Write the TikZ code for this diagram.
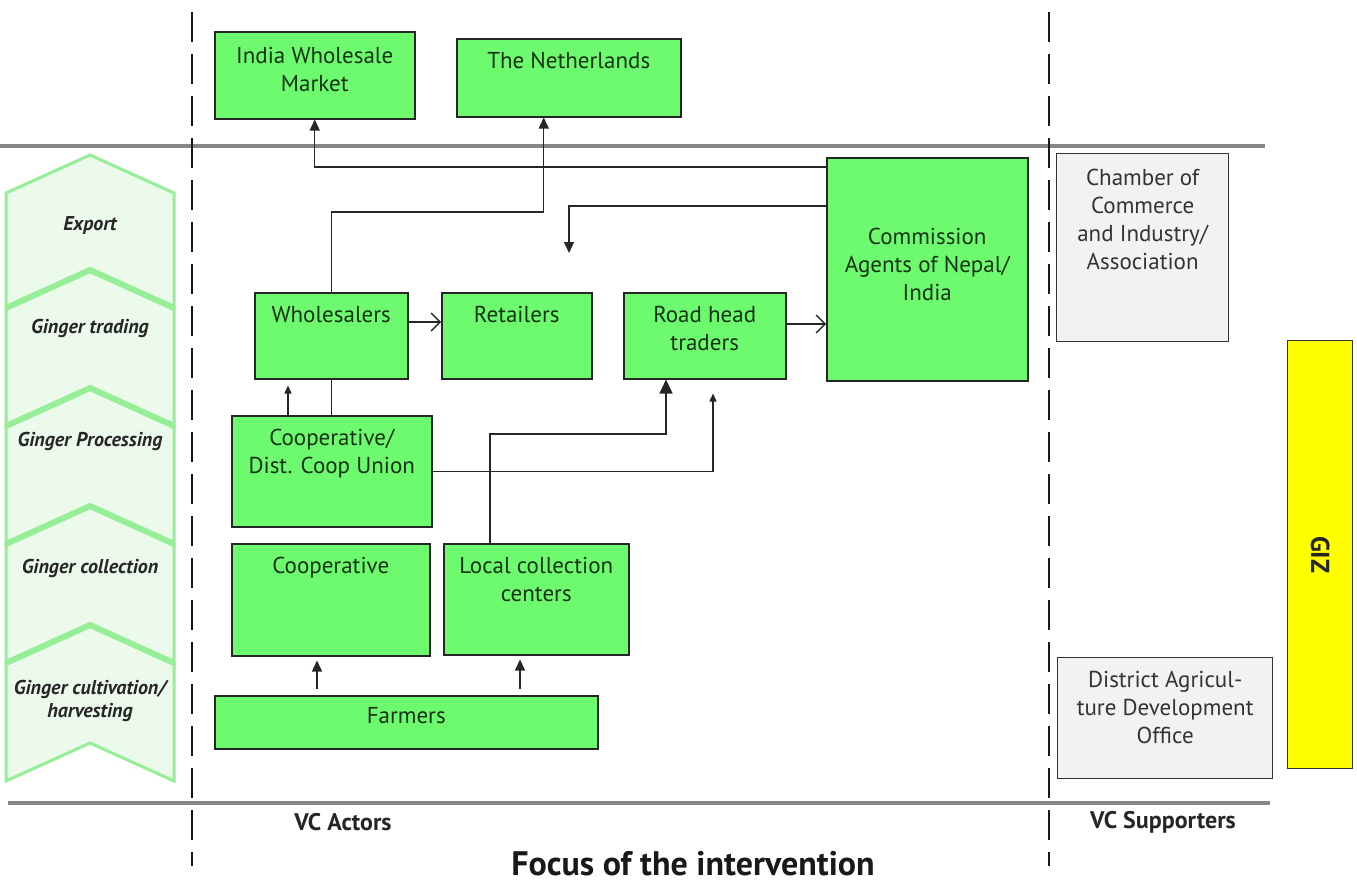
\documentclass[tikz,border=0pt]{standalone}
\usepackage{fontspec}
\setmainfont{PT Sans}
\usetikzlibrary{arrows.meta}
\definecolor{boxgreen}{RGB}{110,250,110}
\definecolor{chevfill}{RGB}{236,250,236}
\definecolor{chevline}{RGB}{150,238,150}
\definecolor{suppfill}{RGB}{242,242,242}
\definecolor{linegray}{RGB}{135,135,135}
\definecolor{txtgreen}{RGB}{20,50,20}
\definecolor{gizyellow}{RGB}{255,255,0}
\begin{document}
\begin{tikzpicture}[x=1pt,y=-1pt,
  gbox/.style={draw=black!85, line width=1.5pt, fill=boxgreen, anchor=north west, inner sep=0pt},
  sbox/.style={draw=black!80, line width=1.3pt, fill=suppfill, anchor=north west, inner sep=0pt},
  btxt/.style={anchor=north, align=center, font=\fontsize{23}{28}\selectfont, text=txtgreen, inner sep=0pt},
  stxt/.style={anchor=north, align=center, font=\fontsize{23}{28}\selectfont, text=black!80, inner sep=0pt},
  stagetxt/.style={font=\fontsize{20}{23}\selectfont\bfseries\itshape, align=center, text=black!85, inner sep=0pt},
  bottxt/.style={font=\fontsize{24}{28}\selectfont\bfseries, text=black!85, inner sep=0pt},
  conn/.style={line width=1.4pt, draw=black!85},
  tri/.style={-{Triangle[width=10pt,length=11pt]}},
  bigtri/.style={-{Triangle[width=13pt,length=14pt]}},
  smalltri/.style={-{Triangle[width=7pt,length=8pt]}},
  barb/.style={-{Straight Barb[width=18pt,length=9pt,line width=1.4pt]}},
  sep/.style={line width=3.5pt, draw=linegray},
  vdash/.style={line width=2.6pt, draw=black!90, dash pattern=on 30pt off 12pt},
  chev/.style={fill=chevfill, draw=chevline, line width=3pt, line join=miter},
  chevband/.style={draw=chevline, line width=6pt}
]
\useasboundingbox (0,0) rectangle (1357,889);

% stage chevrons
\foreach \a/\b in {155/270,270/388,388/506,506/625,625/743}{
  \path[chev] (6,\a+38) -- (90,\a) -- (174,\a+38) -- (174,\b+38) -- (90,\b) -- (6,\b+38) -- cycle;
}
\foreach \a in {270,388,506,625}{
  \draw[chevband] (6,\a+38) -- (90,\a) -- (174,\a+38);
}
\node[stagetxt] (st1) at (90,225) {Export};
\node[stagetxt] (st2) at (90,328) {Ginger trading};
\node[stagetxt] (st3) at (90,441) {Ginger Processing};
\node[stagetxt] (st4) at (90,568) {Ginger collection};
\node[stagetxt] (st5) at (90,701) {Ginger cultivation/\\harvesting};

% separators
\draw[sep] (0,146) -- (1265,146);
\draw[sep] (8,803) -- (1270,803);
\draw[vdash] (192,12) -- (192,866);
\draw[vdash] (1049,12) -- (1049,866);

% green boxes
\node[gbox, minimum width=200pt, minimum height=87pt] (india) at (214,31) {};
\node[btxt] (indiat) at ([yshift=-16pt]india.north) {India Wholesale\\Market};
\node[gbox, minimum width=224pt, minimum height=78pt] (neth) at (456,38) {};
\node[btxt] (netht) at ([yshift=-14pt]neth.north) {The Netherlands};
\node[gbox, minimum width=201pt, minimum height=223pt] (ca) at (826,157) {};
\node[btxt] (cat) at ([yshift=-71pt]ca.north) {Commission\\Agents of Nepal/\\India};
\node[gbox, minimum width=153pt, minimum height=86pt] (whole) at (254,292) {};
\node[btxt] (wholet) at ([yshift=-14pt]whole.north) {Wholesalers};
\node[gbox, minimum width=150pt, minimum height=86pt] (retail) at (441,292) {};
\node[btxt] (retailt) at ([yshift=-14pt]retail.north) {Retailers};
\node[gbox, minimum width=162pt, minimum height=86pt] (road) at (623,292) {};
\node[btxt] (roadt) at ([yshift=-14pt]road.north) {Road head\\traders};
\node[gbox, minimum width=200pt, minimum height=111pt] (coopu) at (231,415) {};
\node[btxt] (cooput) at ([yshift=-14pt]coopu.north) {Cooperative/\\Dist. Coop Union};
\node[gbox, minimum width=198pt, minimum height=112pt] (coop) at (231,543) {};
\node[btxt] (coopt) at ([yshift=-14pt]coop.north) {Cooperative};
\node[gbox, minimum width=185pt, minimum height=111pt] (lcc) at (443,543) {};
\node[btxt] (lcct) at ([yshift=-14pt]lcc.north) {Local collection\\centers};
\node[gbox, minimum width=383pt, minimum height=53pt] (farm) at (214,695) {};
\node[btxt] (farmt) at ([yshift=-12pt]farm.north) {Farmers};

% supporters
\node[sbox, minimum width=172pt, minimum height=188pt] (cham) at (1056,153) {};
\node[stxt] (chamt) at ([yshift=-16pt]cham.north) {Chamber of\\Commerce\\and Industry/\\Association};
\node[sbox, minimum width=215pt, minimum height=121pt] (dado) at (1057,657) {};
\node[stxt] (dadot) at ([yshift=-14pt]dado.north) {District Agricul-\\ture Development\\Office};
\node[draw=black!80, line width=1.3pt, fill=gizyellow, anchor=north west, inner sep=0pt,
      minimum width=65pt, minimum height=428pt] (giz) at (1287,340) {};
\node[rotate=-90, font=\fontsize{26}{30}\selectfont\bfseries, text=black!85] (gizt) at (giz.center) {GIZ};

% connectors
\draw[conn, tri] ([yshift=-10pt]ca.north west) -| (india.south);
\draw[conn, tri] (whole.north) -- ++(0,-80) -| ([xshift=-25pt]neth.south);
\coordinate (cadown) at (569,253);
\draw[conn, tri] ([yshift=-49pt]ca.north west) -| (cadown);
\draw[conn, barb] ([yshift=-30pt]whole.north east) -- ([yshift=-30pt]whole.north east -| retail.west);
\draw[conn, barb] ([yshift=-32pt]road.north east) -- ([yshift=-32pt]road.north east -| ca.west);
\draw[conn, smalltri, shorten >=6pt] ([xshift=57pt]coopu.north west) -- ([xshift=57pt]coopu.north west |- whole.south);
\draw[conn] (whole.south) -- (whole.south |- coopu.north);
\draw[conn, smalltri, shorten >=14pt] (coopu.east) -| ([xshift=90pt]road.south west);
\draw[conn, bigtri] ([xshift=47pt]lcc.north west) -- ++(0,-109) -| ([xshift=43pt]road.south west);
\draw[conn, tri, shorten <=6pt, shorten >=4pt] ([xshift=103pt]farm.north west) -- ([xshift=103pt]farm.north west |- coop.south);
\draw[conn, tri, shorten <=6pt, shorten >=4pt] ([xshift=306pt]farm.north west) -- ([xshift=306pt]farm.north west |- lcc.south);

% bottom labels
\node[bottxt] (vca) at (343,822) {VC Actors};
\node[bottxt] (vcs) at (1163,822) {VC Supporters};
\node[font=\fontsize{34}{38}\selectfont\bfseries, text=black!90, inner sep=0pt] (focus) at (693,864) {Focus of the intervention};
\end{tikzpicture}
\end{document}
